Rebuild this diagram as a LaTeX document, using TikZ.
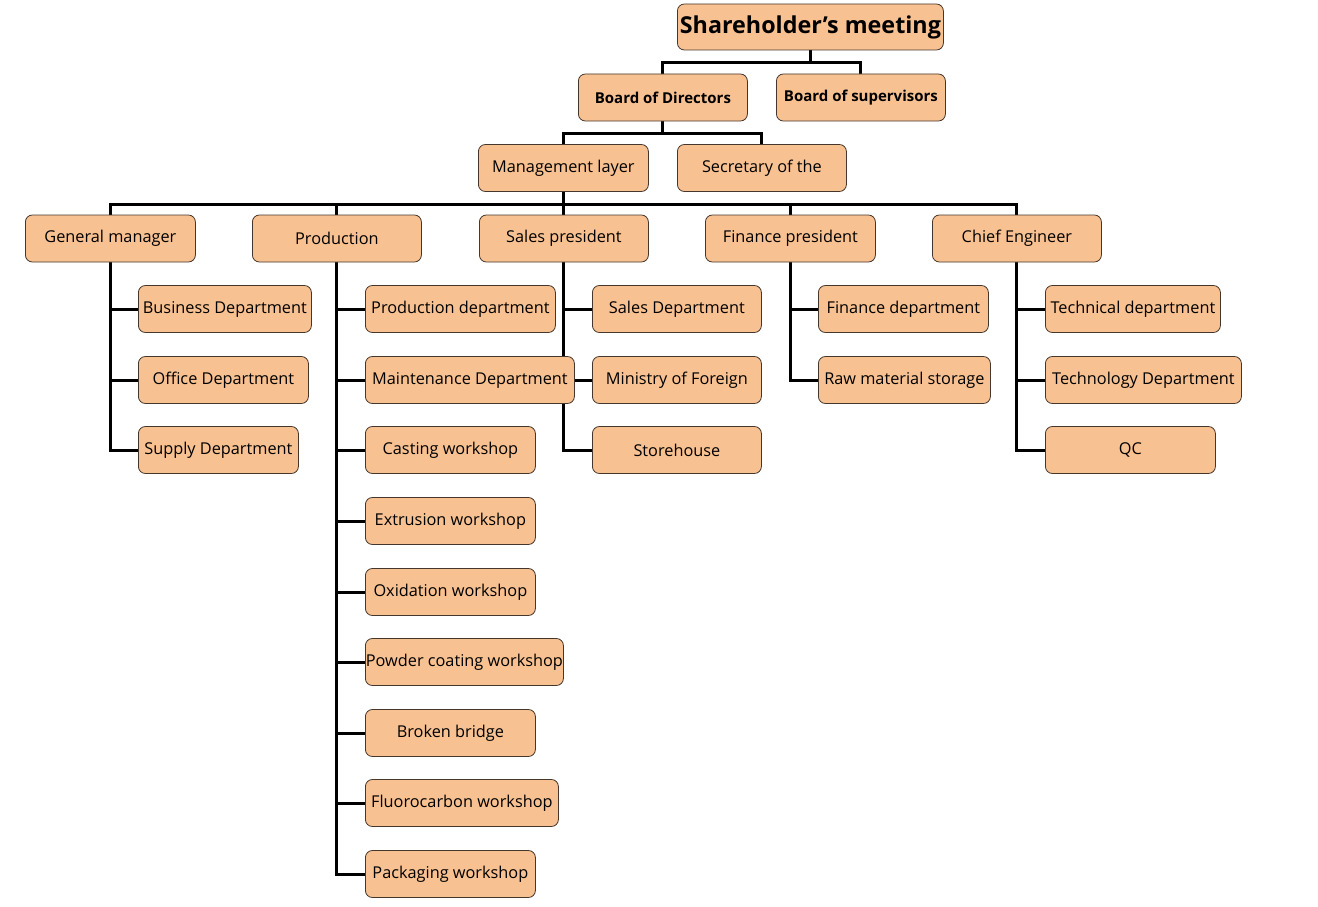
\documentclass[tikz,border=0pt]{standalone}
\usepackage{fontspec}
\setmainfont{Open Sans}
\usetikzlibrary{backgrounds}
\definecolor{peach}{RGB}{248,193,145}
\definecolor{boxline}{RGB}{70,55,45}
\begin{document}
\begin{tikzpicture}[x=1pt,y=-1pt,
  box/.style={draw=boxline, line width=0.8pt, rounded corners=7pt, fill=peach, inner sep=0pt,
    anchor=west, minimum height=47pt, font=\fontsize{16.3}{19}\selectfont, align=center},
  bbox/.style={box, font=\fontsize{15}{18}\selectfont\bfseries},
  conn/.style={draw=black, line width=3pt}]
\useasboundingbox (0,0) rectangle (1318,907);
% top levels
\node[box, minimum width=266pt, minimum height=46pt, font=\fontsize{23.3}{28}\selectfont\bfseries] (sh) at (677,27) {Shareholder’s meeting};
\node[bbox, minimum width=169pt] (bod) at (578,97.5) {Board of Directors};
\node[bbox, minimum width=169pt] (bos) at (776,97.5) {Board of supervisors};
\node[box, minimum width=170pt] (ml) at (478,168) {Management layer};
\node[box, minimum width=169pt] (sec) at (677,168) {Secretary of the};
% third level
\node[box, minimum width=170pt] (gm) at (25,238.5) {General manager};
\node[box, minimum width=169pt] (pr) at (252,238.5) {Production};
\node[box, minimum width=169pt] (sp) at (479,238.5) {Sales president};
\node[box, minimum width=170pt] (fp) at (705,238.5) {Finance president};
\node[box, minimum width=169pt] (ce) at (932,238.5) {Chief Engineer};
% general manager children
\node[box, minimum width=173pt] (gm1) at (138,309) {Business Department};
\node[box, minimum width=170pt] (gm2) at (138,380) {Office Department};
\node[box, minimum width=160pt] (gm3) at (138,450) {Supply Department};
% production children
\node[box, minimum width=190pt] (pr1) at (365,309) {Production department};
\node[box, minimum width=209pt] (pr2) at (365,380) {Maintenance Department};
\node[box, minimum width=170pt] (pr3) at (365,450) {Casting workshop};
\node[box, minimum width=170pt] (pr4) at (365,521) {Extrusion workshop};
\node[box, minimum width=170pt] (pr5) at (365,592) {Oxidation workshop};
\node[box, minimum width=198pt] (pr6) at (365,662) {Powder coating workshop};
\node[box, minimum width=170pt] (pr7) at (365,733) {Broken bridge};
\node[box, minimum width=193pt] (pr8) at (365,803) {Fluorocarbon workshop};
\node[box, minimum width=170pt] (pr9) at (365,874) {Packaging workshop};
% sales children
\node[box, minimum width=169pt] (sp1) at (592,309) {Sales Department};
\node[box, minimum width=169pt] (sp2) at (592,380) {Ministry of Foreign};
\node[box, minimum width=169pt] (sp3) at (592,450) {Storehouse};
% finance children
\node[box, minimum width=170pt] (fp1) at (818,309) {Finance department};
\node[box, minimum width=172pt] (fp2) at (818,380) {Raw material storage};
% chief engineer children
\node[box, minimum width=175pt] (ce1) at (1045,309) {Technical department};
\node[box, minimum width=196pt] (ce2) at (1045,380) {Technology Department};
\node[box, minimum width=170pt] (ce3) at (1045,450) {QC};
\begin{pgfonlayer}{background}
\draw[conn] (sh.south) -- ++(0,12) -| (bod.north);
\draw[conn] (sh.south) -- ++(0,12) -| (bos.north);
\draw[conn] (bod.south) -- ++(0,12) -| (ml.north);
\draw[conn] (bod.south) -- ++(0,12) -| (sec.north);
\foreach \t in {gm,pr,sp,fp,ce}{
  \draw[conn] (ml.south) -- ++(0,13) -| (\t.north);
}
\foreach \c in {gm1,gm2,gm3}{\draw[conn] (gm.south) |- (\c.west);}
\foreach \c in {pr1,pr2,pr3,pr4,pr5,pr6,pr7,pr8,pr9}{\draw[conn] (pr.south) |- (\c.west);}
\foreach \c in {sp1,sp2,sp3}{\draw[conn] (sp.south) |- (\c.west);}
\foreach \c in {fp1,fp2}{\draw[conn] (fp.south) |- (\c.west);}
\foreach \c in {ce1,ce2,ce3}{\draw[conn] (ce.south) |- (\c.west);}
\end{pgfonlayer}
\end{tikzpicture}
\end{document}
